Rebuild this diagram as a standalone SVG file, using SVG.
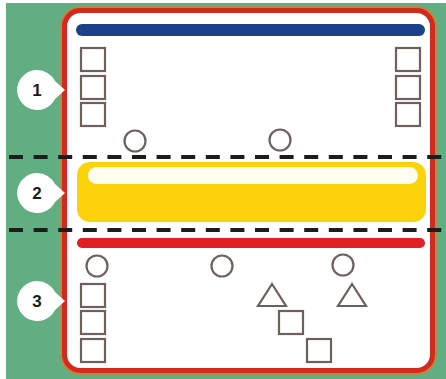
<svg xmlns="http://www.w3.org/2000/svg" width="446" height="379" viewBox="0 0 446 379">
  <style>
    .sq { fill: none; stroke: #6e605c; stroke-width: 2.2; }
    .dash { stroke: #1c1c1c; stroke-width: 4; stroke-dasharray: 14 10.6; }
    .badge { fill: #ffffff; }
    .num { font-family: "Liberation Sans", Arial, sans-serif; font-weight: bold; font-size: 17px; fill: #1a1a1a; text-anchor: middle; }
  </style>
  <rect x="0" y="0" width="446" height="379" fill="#ffffff"/>
  <rect x="6" y="3" width="440" height="376" fill="#62ae83"/>
  <g id="frame">
    <rect x="64.5" y="10.5" width="368" height="360" rx="16" fill="#ffffff" stroke="#e0782e" stroke-width="8"/>
    <rect x="64.5" y="10.5" width="368" height="360" rx="16" fill="#ffffff" stroke="#d42a1e" stroke-width="5"/>
  </g>
  <g id="section1">
    <rect x="76" y="24" width="349" height="12" rx="6" fill="#1b418b"/>
    <rect class="sq" x="81" y="48" width="24" height="23"/>
    <rect class="sq" x="81" y="76" width="24" height="23"/>
    <rect class="sq" x="81" y="103" width="24" height="23"/>
    <rect class="sq" x="396" y="48" width="24" height="23"/>
    <rect class="sq" x="396" y="76" width="24" height="23"/>
    <rect class="sq" x="396" y="103" width="24" height="23"/>
    <circle class="sq" cx="135" cy="141" r="10.5"/>
    <circle class="sq" cx="280" cy="140" r="10.5"/>
  </g>
  <g id="section2">
    <rect x="77" y="162" width="349" height="60" rx="13" fill="#fcd20a"/>
    <rect x="88" y="167" width="330" height="17" rx="8.5" fill="#fffdf0"/>
  </g>
  <g id="section3">
    <rect x="77" y="238" width="348" height="10" rx="5" fill="#e11f26"/>
    <circle class="sq" cx="97" cy="266" r="10.5"/>
    <circle class="sq" cx="222" cy="266" r="10.5"/>
    <circle class="sq" cx="343" cy="265" r="10.5"/>
    <rect class="sq" x="81" y="284" width="24" height="23"/>
    <rect class="sq" x="81" y="311" width="24" height="23"/>
    <rect class="sq" x="81" y="339" width="24" height="23"/>
    <polygon class="sq" points="272,284 258,306 286,306"/>
    <polygon class="sq" points="352,284 338,306 366,306"/>
    <rect class="sq" x="279" y="311" width="24" height="23"/>
    <rect class="sq" x="307" y="339" width="24" height="23"/>
  </g>
  <g id="dividers">
    <line class="dash" x1="9" y1="157" x2="446" y2="157"/>
    <line class="dash" x1="9" y1="230" x2="446" y2="230"/>
  </g>
  <g id="badge1">
    <path class="badge" d="M37,70 A20,20 0 1,0 55,99 L65,90 L55,81 A20,20 0 0,0 37,70 Z"/>
    <text class="num" x="37" y="96">1</text>
  </g>
  <g id="badge2">
    <path class="badge" d="M37,173 A20,20 0 1,0 55,202 L65,193 L55,184 A20,20 0 0,0 37,173 Z"/>
    <text class="num" x="37" y="199">2</text>
  </g>
  <g id="badge3">
    <path class="badge" d="M37,281 A20,20 0 1,0 55,310 L65,301 L55,292 A20,20 0 0,0 37,281 Z"/>
    <text class="num" x="37" y="307">3</text>
  </g>
</svg>
